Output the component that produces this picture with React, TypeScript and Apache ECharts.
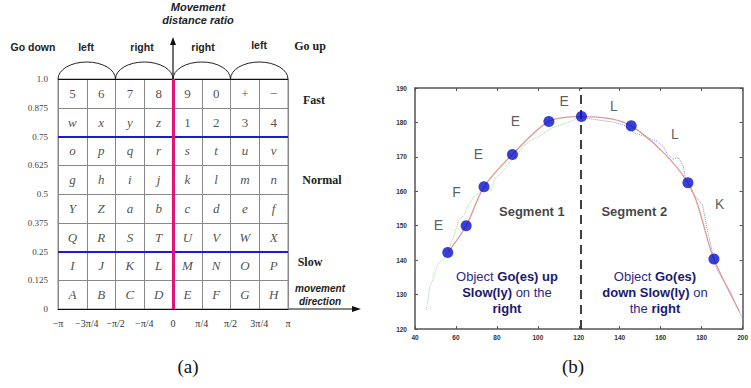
import React, { useEffect, useRef } from "react";
import * as echarts from "echarts";

// ---------- Panel (a) data ----------
const CELL_ROWS: string[][] = [
  ["5", "6", "7", "8", "9", "0", "+", "−"],
  ["w", "x", "y", "z", "1", "2", "3", "4"],
  ["o", "p", "q", "r", "s", "t", "u", "v"],
  ["g", "h", "i", "j", "k", "l", "m", "n"],
  ["Y", "Z", "a", "b", "c", "d", "e", "f"],
  ["Q", "R", "S", "T", "U", "V", "W", "X"],
  ["I", "J", "K", "L", "M", "N", "O", "P"],
  ["A", "B", "C", "D", "E", "F", "G", "H"],
];
const X_TICKS_A = ["−π", "−3π/4", "−π/2", "−π/4", "0", "π/4", "π/2", "3π/4", "π"];
const Y_TICKS_A = ["0", "0.125", "0.25", "0.375", "0.5", "0.625", "0.75", "0.875", "1.0"];
const ARC_SPANS = [[-4, -2], [-2, 0], [0, 2], [2, 4]];
const BLUE_LINES = [0.25, 0.75];

// ---------- Panel (b) data ----------
const KEY_POINTS: number[][] = [
  [56, 142.2], [65, 150], [73.7, 161.3], [87.6, 170.7], [105.4, 180.3],
  [121.3, 181.7], [145.6, 179], [173.3, 162.5], [186, 140.3],
];
const FIT_CURVE: number[][] = [
  [56, 142.2], [65, 150], [73.7, 161.3], [87.6, 170.7], [105.4, 180.3],
  [121.3, 181.7], [145.6, 179], [173.3, 162.5], [186, 140.3], [198.6, 125],
];
const GREEN_TRACK: number[][] = [
  [45.5, 125.5], [46.5, 129], [47.2, 132.5], [48.5, 134], [50, 137], [51.2, 138.6],
  [53, 140], [55, 141], [57, 144], [59, 147], [61.4, 151.8], [64, 153], [66, 156],
  [69, 158.5], [72, 160], [75, 161.5], [77, 160], [79, 163.5], [82.9, 165.9],
  [86, 168.3], [89, 170], [93.2, 173.2], [97, 175], [101.1, 176.1], [104.3, 177.5],
  [107, 178.5], [109.8, 179], [112.5, 179.6], [115.2, 180], [118.6, 181], [121, 181.5],
];
const BLUE_TRACK: number[][] = [
  [121, 181.5], [126, 181], [132, 180.5], [138, 180], [143, 179], [147, 177],
  [152, 176], [156, 175], [158.2, 174.6], [160, 173.5], [161.4, 173], [163, 171],
  [166, 169.3], [168.6, 169.8], [170, 168.5], [171, 167.3], [172, 164], [173.5, 162],
  [175, 160], [177, 158.5], [180.5, 156], [182, 151], [183.5, 147], [185, 143],
  [186.5, 139], [188, 136.5], [191.5, 133.4], [194, 131], [196, 128], [198, 125.5], [200, 123],
];
const CODE_LABELS: (string | number)[][] = [
  [51.4, 150.3, "E"], [60.3, 159.9, "F"], [71, 170.7, "E"], [89, 180.4, "E"],
  [112.9, 186.3, "E"], [137.1, 184.8, "L"], [167, 176.6, "L"], [188.8, 156.2, "K"],
];
const SEGMENT_LABELS: (string | number)[][] = [
  [97.1, 154.1, "Segment 1"], [147.1, 154.1, "Segment 2"],
];
const SEGMENT_SPLIT = 121;

const SANS = "'Liberation Sans', Arial, sans-serif";
const SERIF = "'Liberation Serif', 'DejaVu Serif', serif";

export default function App() {
  const ref = useRef<HTMLDivElement>(null);

  useEffect(() => {
    if (!ref.current) return;
    const chart = echarts.init(ref.current, undefined, { renderer: "svg" });

    const cellData: any[] = [];
    CELL_ROWS.forEach((row, r) => {
      row.forEach((ch, c) => {
        const isLetter = /[A-Za-z]/.test(ch);
        cellData.push({
          value: [c - 4 + 0.5, 1 - (r + 0.5) * 0.125, ch],
          label: { fontStyle: isLetter ? "italic" : "normal" },
        });
      });
    });

    const text = (x: number, y: number, t: string, style: any) => ({
      type: "text",
      x,
      y,
      style: { text: t, align: "center", verticalAlign: "middle", fill: "#222", ...style },
    });

    const option: any = {
      animation: false,
      grid: [
        { left: 58, top: 79, width: 230, height: 230, show: true, borderColor: "#888", borderWidth: 1 },
        { left: 415, top: 88, width: 335, height: 241, show: false },
      ],
      xAxis: [
        {
          gridIndex: 0, type: "value", min: -4, max: 4, interval: 1,
          axisLine: { show: true, lineStyle: { color: "#111", width: 1.2 } },
          axisTick: { show: false },
          splitLine: { show: true, lineStyle: { color: "#888", width: 1 } },
          axisLabel: {
            margin: 9, fontFamily: SERIF, fontSize: 10, color: "#333",
            formatter: (v: number) => X_TICKS_A[Math.round(v) + 4] ?? "",
          },
        },
        {
          gridIndex: 1, type: "value", min: 40, max: 200, interval: 20,
          axisLine: { show: true, onZero: false, lineStyle: { color: "#555", width: 1.5 } },
          axisTick: { show: true, inside: true, length: 3, lineStyle: { color: "#555" } },
          splitLine: { show: false },
          axisLabel: { margin: 5, fontFamily: SANS, fontSize: 6.5, color: "#333", fontWeight: "bold" },
        },
        {
          gridIndex: 1, type: "value", min: 40, max: 200, interval: 20, position: "top",
          axisLine: { show: true, onZero: false, lineStyle: { color: "#555", width: 1.5 } },
          axisTick: { show: true, inside: true, length: 3, lineStyle: { color: "#555" } },
          splitLine: { show: false },
          axisLabel: { show: false },
        },
      ],
      yAxis: [
        {
          gridIndex: 0, type: "value", min: 0, max: 1, interval: 0.125,
          axisLine: { show: false },
          axisTick: { show: false },
          splitLine: { show: true, lineStyle: { color: "#888", width: 1 } },
          axisLabel: {
            margin: 10, fontFamily: SERIF, fontSize: 9, color: "#444",
            formatter: (v: number) => Y_TICKS_A[Math.round(v * 8)] ?? "",
          },
        },
        {
          gridIndex: 1, type: "value", min: 120, max: 190, interval: 10,
          axisLine: { show: true, onZero: false, lineStyle: { color: "#555", width: 1.5 } },
          axisTick: { show: true, inside: true, length: 3, lineStyle: { color: "#555" } },
          splitLine: { show: false },
          axisLabel: { margin: 8, fontFamily: SANS, fontSize: 6.5, color: "#333", fontWeight: "bold" },
        },
        {
          gridIndex: 1, type: "value", min: 120, max: 190, interval: 10, position: "right",
          axisLine: { show: true, onZero: false, lineStyle: { color: "#555", width: 1.5 } },
          axisTick: { show: true, inside: true, length: 3, lineStyle: { color: "#555" } },
          splitLine: { show: false },
          axisLabel: { show: false },
        },
      ],
      series: [
        {
          type: "scatter", xAxisIndex: 0, yAxisIndex: 0,
          symbolSize: 1, itemStyle: { color: "rgba(0,0,0,0)" },
          data: cellData,
          label: {
            show: true, position: "inside", fontFamily: SERIF, fontSize: 13, color: "#222",
            formatter: (p: any) => p.value[2],
          },
          markLine: {
            silent: true, symbol: "none", label: { show: false },
            data: [
              ...BLUE_LINES.map((v) => ({ yAxis: v, lineStyle: { color: "#1a1ad8", width: 2, type: "solid" } })),
              { yAxis: 1, lineStyle: { color: "#111", width: 1.2, type: "solid" } },
              { xAxis: 0, lineStyle: { color: "#e0147a", width: 3, type: "solid" } },
            ],
          },
          z: 5,
        },
        {
          type: "custom", xAxisIndex: 0, yAxisIndex: 0,
          data: ARC_SPANS,
          renderItem: (_p: any, api: any) => {
            const p0 = api.coord([api.value(0), 1]);
            const p1 = api.coord([api.value(1), 1]);
            const rx = (p1[0] - p0[0]) / 2;
            const ry = 17;
            return {
              type: "path",
              shape: { pathData: `M ${p0[0]} ${p0[1]} A ${rx} ${ry} 0 0 1 ${p1[0]} ${p1[1]}` },
              style: { fill: "none", stroke: "#222", lineWidth: 1 },
            };
          },
        },
        {
          type: "line", xAxisIndex: 1, yAxisIndex: 1, data: GREEN_TRACK,
          showSymbol: false, lineStyle: { color: "#9ad89a", width: 1, type: "dotted" }, z: 2,
        },
        {
          type: "line", xAxisIndex: 1, yAxisIndex: 1, data: BLUE_TRACK,
          showSymbol: false, lineStyle: { color: "#9090e0", width: 1, type: "dotted" }, z: 2,
        },
        {
          type: "line", xAxisIndex: 1, yAxisIndex: 1, data: FIT_CURVE, smooth: 0.3,
          showSymbol: false, lineStyle: { color: "#de9a90", width: 1.3 }, z: 3,
          markLine: {
            silent: true, symbol: "none", label: { show: false },
            lineStyle: { color: "#111", width: 1.6, type: [9, 6] },
            data: [{ xAxis: SEGMENT_SPLIT }],
          },
        },
        {
          type: "scatter", xAxisIndex: 1, yAxisIndex: 1, data: KEY_POINTS,
          symbolSize: 11, itemStyle: { color: "#0610cc" }, z: 6,
        },
        {
          type: "scatter", xAxisIndex: 1, yAxisIndex: 1, data: CODE_LABELS,
          symbolSize: 1, itemStyle: { color: "rgba(0,0,0,0)" },
          label: { show: true, position: "inside", fontFamily: SANS, fontSize: 14, color: "#333", formatter: (p: any) => p.value[2] },
        },
        {
          type: "scatter", xAxisIndex: 1, yAxisIndex: 1, data: SEGMENT_LABELS,
          symbolSize: 1, itemStyle: { color: "rgba(0,0,0,0)" },
          label: { show: true, position: "inside", fontFamily: SANS, fontSize: 13, fontWeight: "bold", color: "#111", formatter: (p: any) => p.value[2] },
        },
      ],
      graphic: [
        { type: "line", shape: { x1: 288, y1: 309, x2: 355, y2: 309 }, style: { stroke: "#111", lineWidth: 1.2 } },
        { type: "polygon", shape: { points: [[361, 309], [352, 306], [352, 312]] }, style: { fill: "#111" } },
        { type: "line", shape: { x1: 173, y1: 79, x2: 173, y2: 44 }, style: { stroke: "#111", lineWidth: 1.2 } },
        { type: "polygon", shape: { points: [[173, 37], [170, 45], [176, 45]] }, style: { fill: "#111" } },
        text(198, 7, "Movement", { font: `italic bold 11px ${SANS}` }),
        text(198, 20, "distance ratio", { font: `italic bold 11px ${SANS}` }),
        text(33, 47, "Go down", { font: `bold 10.5px ${SANS}` }),
        text(86, 47, "left", { font: `bold 10.5px ${SANS}` }),
        text(142, 47, "right", { font: `bold 10.5px ${SANS}` }),
        text(203, 47, "right", { font: `bold 10.5px ${SANS}` }),
        text(259, 45, "left", { font: `bold 10.5px ${SANS}` }),
        text(310, 46, "Go up", { font: `bold 12px ${SERIF}` }),
        text(314, 100, "Fast", { font: `bold 12px ${SERIF}` }),
        text(322, 180, "Normal", { font: `bold 12px ${SERIF}` }),
        text(310, 262, "Slow", { font: `bold 12px ${SERIF}` }),
        text(320, 288, "movement", { font: `italic bold 10px ${SANS}` }),
        text(320, 301, "direction", { font: `italic bold 10px ${SANS}` }),
        text(188, 366, "(a)", { font: `19px ${SERIF}`, fill: "#111" }),
        text(573, 366, "(b)", { font: `19px ${SERIF}`, fill: "#111" }),
        {
          type: "text", x: 507, y: 292,
          style: {
            text: "{n|Object }{b|Go(es) up}\n{b|Slow(ly)}{n| on the}\n{b|right}",
            align: "center", verticalAlign: "middle", lineHeight: 16,
            rich: {
              n: { font: `13px ${SANS}`, fill: "#2c2c86", lineHeight: 16 },
              b: { font: `bold 13px ${SANS}`, fill: "#1a1a6e", lineHeight: 16 },
            },
          },
        },
        {
          type: "text", x: 655, y: 292,
          style: {
            text: "{n|Object }{b|Go(es)}\n{b|down Slow(ly)}{n| on}\n{n|the }{b|right}",
            align: "center", verticalAlign: "middle", lineHeight: 16,
            rich: {
              n: { font: `13px ${SANS}`, fill: "#2c2c86", lineHeight: 16 },
              b: { font: `bold 13px ${SANS}`, fill: "#1a1a6e", lineHeight: 16 },
            },
          },
        },
      ],
    };

    chart.setOption(option);
    return () => chart.dispose();
  }, []);

  return (
    <div
      ref={ref}
      style={{ position: "fixed", left: 0, top: 0, width: 751, height: 388, background: "#fff" }}
    />
  );
}
